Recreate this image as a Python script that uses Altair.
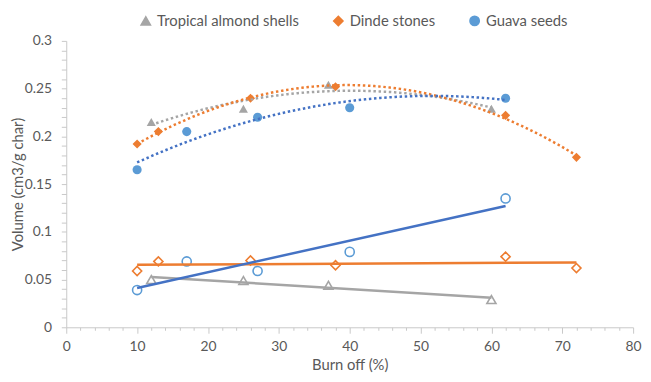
import altair as alt
import pandas as pd

series = ["Tropical almond shells", "Dinde stones", "Guava seeds"]

almond_x = [12, 25, 37, 60]
almond_solid = [0.215, 0.229, 0.254, 0.229]
almond_open = [0.050, 0.049, 0.044, 0.029]

dinde_x = [10, 13, 26, 38, 62, 72]
dinde_solid = [0.192, 0.205, 0.240, 0.252, 0.222, 0.178]
dinde_open = [0.059, 0.069, 0.070, 0.065, 0.074, 0.062]

guava_x = [10, 17, 27, 40, 62]
guava_solid = [0.165, 0.205, 0.220, 0.230, 0.240]
guava_open = [0.039, 0.069, 0.059, 0.079, 0.135]

marker_colors = ["#A5A5A5", "#ED7D31", "#5B9BD5"]
trend_colors = ["#A5A5A5", "#ED7D31", "#4472C4"]
shapes = ["triangle-up", "diamond", "circle"]

x_ticks = list(range(0, 81, 2))
y_ticks = [round(i * 0.01, 2) for i in range(31)]


def frame(groups):
    rows = []
    for name, xs, ys in groups:
        for xv, yv in zip(xs, ys):
            rows.append({"series": name, "x": xv, "y": yv})
    return pd.DataFrame(rows)


solid = frame([(series[0], almond_x, almond_solid),
               (series[1], dinde_x, dinde_solid),
               (series[2], guava_x, guava_solid)])
hollow = frame([(series[0], almond_x, almond_open),
                (series[1], dinde_x, dinde_open),
                (series[2], guava_x, guava_open)])

x_axis = alt.Axis(
    values=x_ticks,
    title="Burn off (%)",
    labelExpr="datum.value % 10 === 0 ? datum.label : ''",
    tickSize={"condition": {"test": "datum.value % 10 === 0", "value": 6}, "value": 3},
    labelFlush=False,
    labelOverlap=False,
    grid=False,
    labelPadding=6,
    titlePadding=5,
)
y_axis = alt.Axis(
    values=y_ticks,
    title="Volume (cm3/g char)",
    labelExpr="abs(datum.value * 20 - round(datum.value * 20)) < 0.001 ? format(datum.value, '~g') : ''",
    tickSize=5,
    labelFlush=False,
    labelOverlap=False,
    grid=False,
    labelPadding=10,
    titleX=-49,
    titleBaseline="middle",
)

X = alt.X("x:Q", scale=alt.Scale(domain=[0, 80], nice=False, zero=False), axis=x_axis)
Y = alt.Y("y:Q", scale=alt.Scale(domain=[0, 0.3], nice=False), axis=y_axis)

color_scale = alt.Scale(domain=series, range=marker_colors)
shape_scale = alt.Scale(domain=series, range=shapes)
stroke_scale = alt.Scale(domain=series, range=trend_colors)

legend = alt.Legend(
    orient="none",
    legendX=73,
    legendY=-28,
    direction="horizontal",
    title=None,
    labelFont="Lato",
    labelFontSize=15,
    labelColor="#595959",
    symbolSize=90,
    labelOffset=4,
    columnPadding=31,
)

filled_pts = alt.Chart(solid).mark_point(filled=True, size=85, opacity=1).encode(
    x=X, y=Y,
    color=alt.Color("series:N", scale=color_scale, legend=legend),
    shape=alt.Shape("series:N", scale=shape_scale, legend=legend),
)

open_pts = alt.Chart(hollow).mark_point(filled=False, size=85, opacity=1, strokeWidth=1.6).encode(
    x=X, y=Y,
    color=alt.Color("series:N", scale=color_scale, legend=None),
    shape=alt.Shape("series:N", scale=shape_scale, legend=None),
)

poly_lines = alt.Chart(solid).transform_regression(
    "x", "y", groupby=["series"], method="poly", order=2
).mark_line(strokeDash=[2.5, 2.7], strokeWidth=2.5).encode(
    x=X, y=Y,
    stroke=alt.Stroke("series:N", scale=stroke_scale, legend=None),
)

lin_lines = alt.Chart(hollow).transform_regression(
    "x", "y", groupby=["series"], method="linear"
).mark_line(strokeWidth=2.5).encode(
    x=X, y=Y,
    stroke=alt.Stroke("series:N", scale=stroke_scale, legend=None),
)

chart = alt.layer(filled_pts, open_pts, poly_lines, lin_lines).properties(
    width=574,
    height=290,
    autosize=alt.AutoSizeParams(type="none"),
    padding={"left": 59, "top": 31, "right": 10, "bottom": 47},
).configure_view(stroke=None).configure_axis(
    domainColor="#C8C8C8",
    tickColor="#C8C8C8",
    labelColor="#595959",
    titleColor="#595959",
    labelFont="Lato",
    titleFont="Lato",
    labelFontSize=14,
    titleFontSize=15,
    titleFontWeight="normal",
)

chart.save("out.html", embed_options={"renderer": "svg", "actions": False})
